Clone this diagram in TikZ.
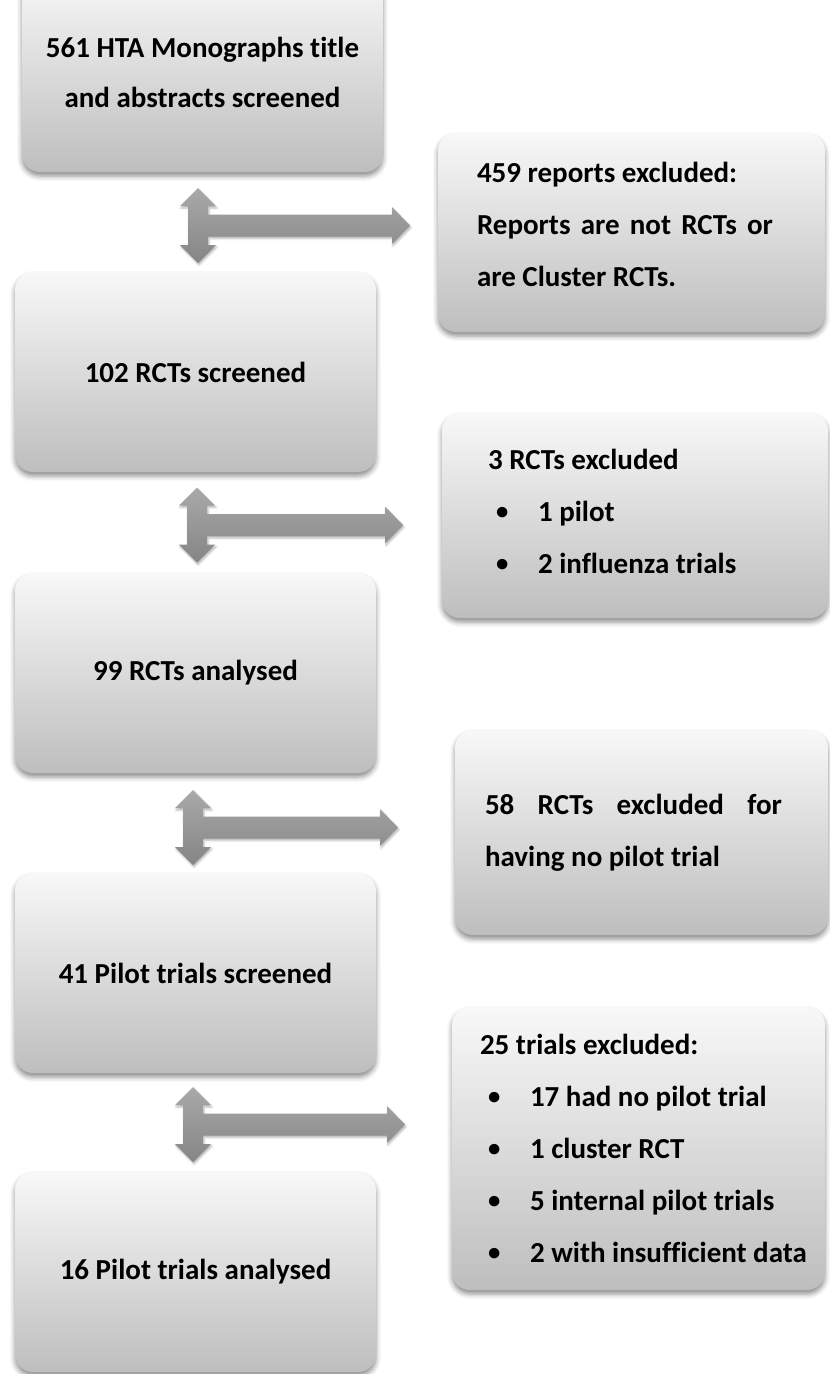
\documentclass[tikz,border=0pt]{standalone}
\usepackage{fontspec}
\setmainfont{Carlito}[Ligatures=NoCommon]
\usepackage{tikz}
\usetikzlibrary{shadows.blur}
\definecolor{boxtop}{HTML}{F8F8F8}
\definecolor{boxbottom}{HTML}{BEBEBE}
\definecolor{arrowtop}{HTML}{A9A9A9}
\definecolor{arrowbottom}{HTML}{858585}
\setlength{\parindent}{0pt}
\newcommand{\bul}[1]{\makebox[50pt][l]{\hspace*{8pt}\raisebox{0.06em}{\scalebox{0.85}{\textbullet}}}#1}

\begin{document}
\begin{tikzpicture}[x=1pt, y=-1pt,
  flowbox/.style={rounded corners=18pt, top color=boxtop, bottom color=boxbottom, minimum width=361pt, minimum height=200pt, align=center, font=\fontsize{29}{50}\selectfont\bfseries, blur shadow={shadow xshift=0pt, shadow yshift=-4pt, shadow blur radius=5pt, shadow opacity=45}},
  extext/.style={anchor=west, inner sep=0pt, align=left, font=\fontsize{29}{52}\selectfont\bfseries},
  blockarrow/.style={top color=arrowtop, bottom color=arrowbottom, blur shadow={shadow xshift=1pt, shadow yshift=-2pt, shadow blur radius=2pt, shadow opacity=30}}
]
\useasboundingbox (0,0) rectangle (830,1374);

% main column
\node[flowbox] (b1) at (202.5,72) {561 HTA Monographs title\\and abstracts screened};
\node[flowbox] (b2) at (195.5,372) {102 RCTs screened};
\node[flowbox] (b3) at (195.5,673) {99 RCTs analysed};
\node[flowbox] (b4) at (195.5,973) {41 Pilot trials screened};
\node[flowbox] (b5) at (195.5,1272) {16 Pilot trials analysed};

% exclusions
\node[flowbox, minimum width=387pt, minimum height=199pt] (r1) at (631.5,232.5) {};
\node[extext] (r1t) at ([xshift=39pt, yshift=8pt]r1.west) {459 reports excluded:\\\makebox[296pt][s]{Reports are not RCTs or}\\are Cluster RCTs.};
\node[flowbox, minimum width=386pt, minimum height=205pt] (r2) at (635,515.5) {};
\node[extext] (r2t) at ([xshift=46pt, yshift=4pt]r2.west) {3 RCTs excluded\\\bul{1 pilot}\\\bul{2 influenza trials}};
\node[flowbox, minimum width=373pt, minimum height=205pt] (r3) at (641.5,832.5) {};
\node[extext] (r3t) at ([xshift=30pt]r3.west) {\makebox[297pt][s]{58 RCTs excluded for}\\having no pilot trial};
\node[flowbox, minimum width=373pt, minimum height=283pt] (r4) at (638.5,1148.5) {};
\node[extext] (r4t) at ([xshift=28pt]r4.west) {25 trials excluded:\\\bul{17 had no pilot trial}\\\bul{1 cluster RCT}\\\bul{5 internal pilot trials}\\\bul{2 with insufficient data}};

% arrows between the columns
\foreach \n/\x/\y/\d in {a1/198/225.5/212, a2/197/525/206, a3/193/827.5/205, a4/193/1124.5/212}{
  \coordinate (\n) at (\x,\y);
  \path[blockarrow, shift={(\n)}] (0,-37.5) -- (18,-19.5) -- (10,-19.5) -- (10,-11) -- (\d-18,-11) -- (\d-18,-18.5) -- (\d,0)
    -- (\d-18,18.5) -- (\d-18,11) -- (10,11) -- (10,19.5) -- (18,19.5) -- (0,37.5) -- (-18,19.5) -- (-10,19.5) -- (-10,-19.5) -- (-18,-19.5) -- cycle;
}
\end{tikzpicture}
\end{document}
